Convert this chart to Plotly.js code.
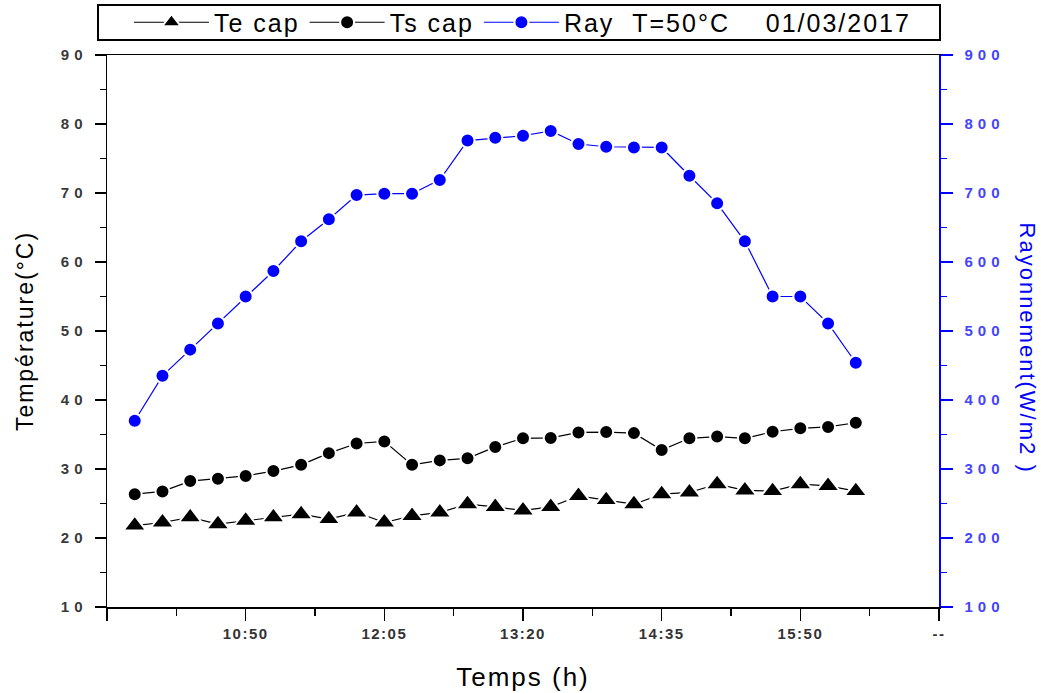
<!DOCTYPE html>
<html>
<head>
<meta charset="utf-8">
<script src="https://cdn.plot.ly/plotly-3.0.1.min.js"></script>
<style>
html,body{margin:0;padding:0;background:#fff;}
#chart{width:1045px;height:693px;}
svg text{letter-spacing:2px;}
#chart .ytick text, #chart .y2tick text{letter-spacing:5px;}
#chart .xtick text{letter-spacing:1.5px;}
</style>
</head>
<body>
<div id="chart"></div>
<script>
const times = ["09:50","10:05","10:20","10:35","10:50","11:05","11:20","11:35","11:50","12:05","12:20","12:35","12:50","13:05","13:20","13:35","13:50","14:05","14:20","14:35","14:50","15:05","15:20","15:35","15:50","16:05","16:20"];
const teCap = [21.8,22.25,23.0,22.0,22.5,23.0,23.45,22.75,23.7,22.25,23.2,23.7,24.9,24.5,24.0,24.5,26.1,25.5,24.9,26.35,26.6,27.8,26.9,26.8,27.8,27.55,26.8];
const tsCap = [26.35,26.75,28.25,28.6,29.0,29.7,30.6,32.3,33.7,34.0,30.6,31.25,31.55,33.2,34.45,34.5,35.3,35.35,35.2,32.75,34.45,34.7,34.45,35.4,35.9,36.1,36.7];
const ray = [370,435,473,511,550,587,630,662,697,699,699,719,776,780,783,790,771,767,766,766,725,685,630,550,550,511,454];
const xTickTimes = ["09:35","10:50","12:05","13:20","14:35","15:50","17:05"];
const xTickLabels = ["","10:50","12:05","13:20","14:35","15:50","--"];
const yTicks = [10,20,30,40,50,60,70,80,90];
const y2Ticks = [100,200,300,400,500,600,700,800,900];
const seriesNames = ["Te cap","Ts cap","Ray\u00a0\u00a0T=50°C\u00a0\u00a0\u00a0\u00a001/03/2017"];

const toMin = s => { const p = s.split(':').map(Number); return p[0]*60 + p[1]; };
const x = times.map(toMin);
const FONT = 'Liberation Sans, Arial, sans-serif';

const traces = [
  {x: x, y: teCap, name: seriesNames[0], type: 'scatter', mode: 'lines+markers',
   line: {color: '#000', width: 1.2},
   marker: {symbol: 'triangle-up', size: 20, color: '#000', line: {color: '#fff', width: 2}}},
  {x: x, y: tsCap, name: seriesNames[1], type: 'scatter', mode: 'lines+markers',
   line: {color: '#000', width: 1.2},
   marker: {symbol: 'circle', size: 14, color: '#000', line: {color: '#fff', width: 2}}},
  {x: x, y: ray, name: seriesNames[2], type: 'scatter', mode: 'lines+markers', yaxis: 'y2',
   line: {color: '#0000ff', width: 1.2},
   marker: {symbol: 'circle', size: 14, color: '#0000ff', line: {color: '#fff', width: 2}}}
];

const layout = {
  width: 1045, height: 693,
  margin: {l: 107, r: 106, t: 55, b: 86, autoexpand: false},
  paper_bgcolor: '#fff', plot_bgcolor: '#fff',
  font: {family: FONT, color: '#000'},
  showlegend: true,
  legend: {orientation: 'h', x: 0.0264, xanchor: 'left', y: 1.0589, yanchor: 'middle',
           font: {family: FONT, size: 25, color: '#000'}, itemwidth: 75,
           bgcolor: 'rgba(0,0,0,0)', borderwidth: 0},
  xaxis: {
    range: [toMin("09:35"), toMin("17:05")],
    tickmode: 'array', tickvals: xTickTimes.map(toMin), ticktext: xTickLabels,
    ticks: 'outside', ticklen: 12, tickwidth: 1.5, tickcolor: '#000',
    showline: true, linecolor: '#000', linewidth: 1.5, mirror: true,
    showgrid: false, zeroline: false,
    tickfont: {family: FONT, size: 15, color: '#333', weight: 700},
    minor: {tickmode: 'linear', tick0: toMin("09:35"), dtick: 37.5, ticks: 'outside', ticklen: 7, tickwidth: 1.5, tickcolor: '#000', showgrid: false},
    title: {text: 'Temps (h)', font: {family: FONT, size: 26, color: '#000'}, standoff: 27}
  },
  yaxis: {
    range: [10, 90],
    tickmode: 'array', tickvals: yTicks,
    ticks: 'outside', ticklen: 11, tickwidth: 1.5, tickcolor: '#000',
    ticklabelstandoff: 4,
    showline: true, linecolor: '#000', linewidth: 1.5,
    showgrid: false, zeroline: false,
    tickfont: {family: FONT, size: 15, color: '#3a3a3a', weight: 700},
    minor: {tickmode: 'linear', tick0: 5, dtick: 5, ticks: 'outside', ticklen: 6, tickwidth: 1.5, tickcolor: '#000', showgrid: false},
    title: {text: 'Température(°C)', font: {family: FONT, size: 23, color: '#000'}, standoff: 27}
  },
  yaxis2: {
    overlaying: 'y', side: 'right',
    range: [100, 900],
    tickmode: 'array', tickvals: y2Ticks,
    ticks: 'outside', ticklen: 12, tickwidth: 1.5, tickcolor: '#0000ff',
    ticklabelstandoff: 9,
    showline: true, linecolor: '#0000ff', linewidth: 1.5,
    showgrid: false, zeroline: false,
    tickfont: {family: FONT, size: 15, color: '#4444ff', weight: 700},
    minor: {tickmode: 'linear', tick0: 50, dtick: 50, ticks: 'outside', ticklen: 6, tickwidth: 1.5, tickcolor: '#0000ff', showgrid: false}
  },
  shapes: [
    {type: 'rect', xref: 'paper', yref: 'paper', x0: -0.0108, x1: 1.0012, y0: 1.027, y1: 1.0906,
     line: {color: '#000', width: 2}, fillcolor: 'rgba(0,0,0,0)'}
  ],
  annotations: [
    {text: 'Rayonnement(W/m2 )', xref: 'paper', yref: 'paper', x: 1.1058, y: 0.47,
     textangle: 90, showarrow: false, xanchor: 'center', yanchor: 'middle',
     font: {family: FONT, size: 22, color: '#0000ff'}}
  ]
};

Plotly.newPlot('chart', traces, layout, {displayModeBar: false, staticPlot: true});
</script>
</body>
</html>
